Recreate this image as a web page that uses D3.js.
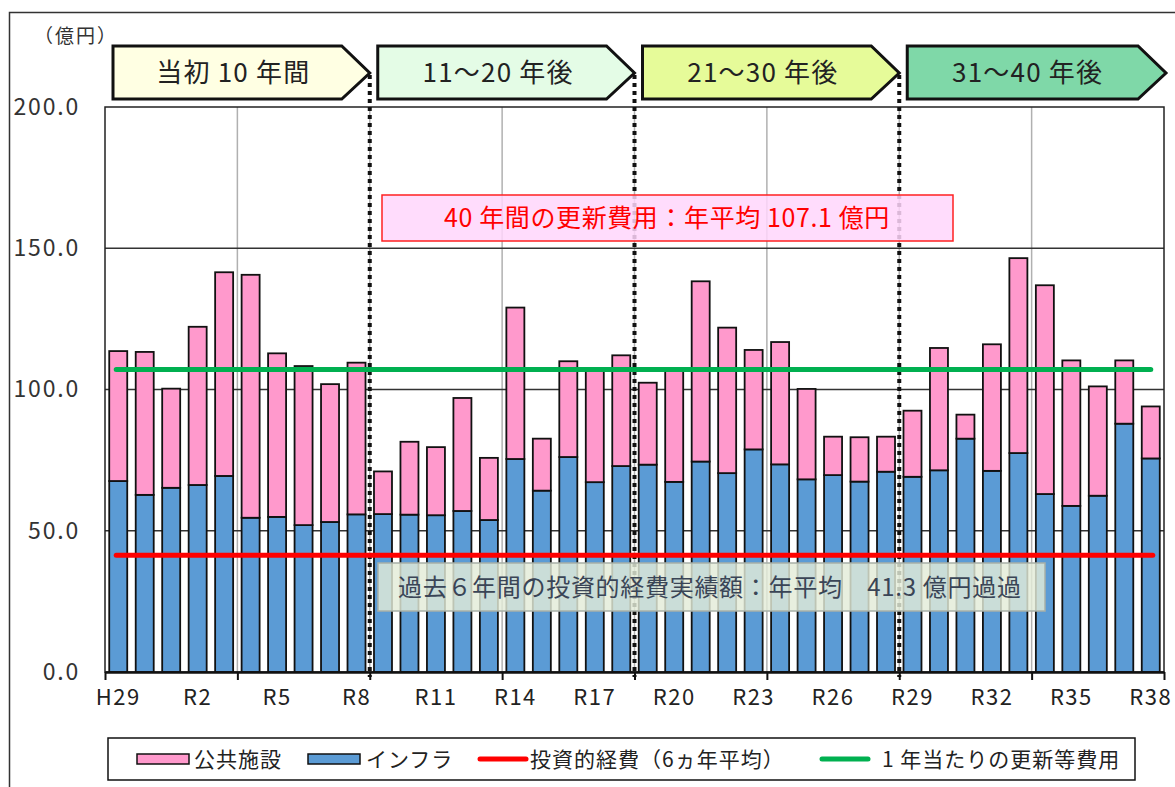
<!DOCTYPE html>
<html>
<head>
<meta charset="utf-8">
<script src="https://cdn.jsdelivr.net/npm/d3@7"></script>
<style>
  body { margin: 0; background: #fff; }
  svg text { font-family: "Noto Sans CJK JP", "Noto Sans", sans-serif; }
</style>
</head>
<body>
<div id="chart"></div>
<script>
// 年度
var years = ["H29", "H30"];
for (var n = 1; n <= 38; n++) years.push("R" + n);

// インフラ（億円）
var infra = [67.6, 62.7, 65.2, 66.2, 69.4, 54.6, 54.9, 52.0, 53.1, 55.8,
             55.9, 55.7, 55.5, 57.0, 53.8, 75.4, 64.2, 76.1, 67.2, 72.9,
             73.4, 67.3, 74.5, 70.4, 78.8, 73.5, 68.2, 69.7, 67.4, 70.9,
             69.1, 71.4, 82.6, 71.2, 77.5, 63.0, 58.8, 62.4, 87.9, 75.6];
// 公共施設（億円）
var publicFac = [46.0, 50.6, 35.1, 56.0, 72.1, 86.0, 57.9, 56.3, 48.8, 53.7,
                 15.1, 25.8, 24.1, 40.0, 22.0, 53.6, 18.4, 33.9, 39.4, 39.2,
                 29.0, 39.5, 63.8, 51.5, 35.2, 43.3, 32.0, 13.6, 15.7, 12.4,
                 23.4, 43.3, 8.5, 44.8, 69.0, 73.9, 51.5, 38.7, 22.4, 18.4];

var renewAvg = 107.1;   // 1年当たりの更新等費用
var investAvg = 41.3;   // 投資的経費（6ヵ年平均）

var yTicks = [0, 50, 100, 150, 200];
var xLabelYears = ["H29", "R2", "R5", "R8", "R11", "R14", "R17", "R20", "R23", "R26", "R29", "R32", "R35", "R38"];
var periods = ["当初 10 年間", "11～20 年後", "21～30 年後", "31～40 年後"];
var periodColors = ["#FFFFE3", "#E4FCE6", "#E6FB99", "#7FD8A8"];
var legendItems = ["公共施設", "インフラ", "投資的経費（6ヵ年平均）", "1 年当たりの更新等費用"];

function drawChart() {
  var W = 1175, H = 787;
  var pLeft = 105, pRight = 1164, pTop = 107, pBottom = 672;

  var svg = d3.select("#chart").append("svg").attr("width", W).attr("height", H);

  // outer frame
  svg.append("path").attr("d", "M9.5," + H + " V12.5 H" + W)
    .attr("fill", "none").attr("stroke", "#333").attr("stroke-width", 1.5);

  var x = d3.scaleBand().domain(years).range([pLeft, pRight]).paddingInner(0.32).paddingOuter(0.16);
  var xi = d3.scaleLinear().domain([0, years.length]).range([pLeft, pRight]);
  var y = d3.scaleLinear().domain([0, 200]).range([pBottom, pTop]);

  // vertical gray grid every 5 years
  svg.append("g").selectAll("line").data(d3.range(5, 40, 5)).enter().append("line")
    .attr("x1", function(d){ return xi(d); }).attr("x2", function(d){ return xi(d); })
    .attr("y1", pTop).attr("y2", pBottom)
    .attr("stroke", "#b0b0b0").attr("stroke-width", 1.5);

  // horizontal grid
  svg.append("g").selectAll("line").data([50, 100, 150]).enter().append("line")
    .attr("x1", pLeft).attr("x2", pRight)
    .attr("y1", function(d){ return y(d); }).attr("y2", function(d){ return y(d); })
    .attr("stroke", "#333").attr("stroke-width", 1.5);

  // plot frame
  svg.append("rect").attr("x", pLeft).attr("y", pTop).attr("width", pRight - pLeft).attr("height", pBottom - pTop)
    .attr("fill", "none").attr("stroke", "#222").attr("stroke-width", 1.5);

  // bars
  var bars = svg.append("g");
  bars.selectAll(".infra").data(years).enter().append("rect").attr("class", "infra")
    .attr("x", function(d){ return x(d); }).attr("width", x.bandwidth())
    .attr("y", function(d, i){ return y(infra[i]); })
    .attr("height", function(d, i){ return y(0) - y(infra[i]); })
    .attr("fill", "#5B9BD5").attr("stroke", "#111").attr("stroke-width", 1.8);
  bars.selectAll(".pub").data(years).enter().append("rect").attr("class", "pub")
    .attr("x", function(d){ return x(d); }).attr("width", x.bandwidth())
    .attr("y", function(d, i){ return y(infra[i] + publicFac[i]); })
    .attr("height", function(d, i){ return y(infra[i]) - y(infra[i] + publicFac[i]); })
    .attr("fill", "#FF99CC").attr("stroke", "#111").attr("stroke-width", 1.8);

  // x axis
  svg.append("g").attr("transform", "translate(0," + pBottom + ")")
    .call(d3.axisBottom(xi).tickValues(d3.range(0, 41, 5)).tickFormat("").tickSize(8).tickSizeOuter(0))
    .call(function(g){
      g.select(".domain").attr("stroke", "#111").attr("stroke-width", 2.5);
      g.selectAll(".tick line").attr("stroke", "#111").attr("stroke-width", 2);
    });
  svg.append("g").selectAll("text").data(xLabelYears).enter().append("text")
    .attr("x", function(d){ return x(d) + x.bandwidth() / 2; }).attr("y", 705)
    .attr("text-anchor", "middle").attr("font-size", 22).attr("letter-spacing", 1.5)
    .attr("fill", "#222").text(function(d){ return d; });

  // y axis labels
  svg.append("g").attr("transform", "translate(" + pLeft + ",0)")
    .call(d3.axisLeft(y).tickValues(yTicks).tickFormat(d3.format(".1f")).tickSize(0).tickPadding(25))
    .call(function(g){
      g.select(".domain").remove();
      g.selectAll("text").attr("font-size", 23).attr("fill", "#333").attr("letter-spacing", 1.8)
        .style("font-family", "'Noto Sans CJK JP', sans-serif");
    });
  svg.append("text").attr("x", 34).attr("y", 43).attr("font-size", 19).attr("letter-spacing", 2)
    .attr("fill", "#333").text("（億円）");

  // period headers
  var hdr = svg.append("g").selectAll("g").data(periods).enter().append("g");
  hdr.append("path")
    .attr("d", function(d, i){
      var l = xi(i * 10) + 8, t = xi((i + 1) * 10) + (i == 3 ? 2 : 0);
      return "M" + l + ",46 H" + (t - 28) + " L" + t + ",73 L" + (t - 28) + ",99 H" + l + " Z";
    })
    .attr("fill", function(d, i){ return periodColors[i]; })
    .attr("stroke", "#111").attr("stroke-width", 3).attr("stroke-linejoin", "miter");
  hdr.append("text")
    .attr("x", function(d, i){ return (xi(i * 10) + 8 + xi((i + 1) * 10) - 28) / 2 + 6; })
    .attr("y", 82).attr("text-anchor", "middle").attr("font-size", 26).attr("letter-spacing", 1.2)
    .attr("fill", "#222").text(function(d){ return d; });

  // dotted period separators
  svg.append("g").selectAll("line").data([10, 20, 30]).enter().append("line")
    .attr("x1", function(d){ return xi(d); }).attr("x2", function(d){ return xi(d); })
    .attr("y1", 75).attr("y2", pBottom + 5)
    .attr("stroke", "#111").attr("stroke-width", 4).attr("stroke-dasharray", "4,4");

  // average lines
  svg.append("line").attr("x1", x(years[0]) + x.bandwidth() / 2 - 2).attr("x2", x(years[39]) + x.bandwidth() / 2 + 2)
    .attr("y1", y(investAvg)).attr("y2", y(investAvg))
    .attr("stroke", "#FF0000").attr("stroke-width", 5).attr("stroke-linecap", "round");
  svg.append("line").attr("x1", x(years[0]) + x.bandwidth() / 2 - 2).attr("x2", x(years[39]) + x.bandwidth() / 2)
    .attr("y1", y(renewAvg)).attr("y2", y(renewAvg))
    .attr("stroke", "#00B050").attr("stroke-width", 5).attr("stroke-linecap", "round");

  // annotation boxes
  svg.append("rect").attr("x", 382).attr("y", 195).attr("width", 571).attr("height", 46)
    .attr("fill", "#FFD6FB").attr("fill-opacity", 0.85).attr("stroke", "#FF2020").attr("stroke-width", 1.5);
  svg.append("text").attr("x", 667).attr("y", 227).attr("text-anchor", "middle")
    .attr("font-size", 25).attr("fill", "#FF0000").attr("letter-spacing", 0.6)
    .text("40 年間の更新費用：年平均 " + renewAvg + " 億円");

  svg.append("rect").attr("x", 378).attr("y", 563).attr("width", 667).attr("height", 48)
    .attr("fill", "#E3EBD8").attr("fill-opacity", 0.82).attr("stroke", "#A8B0A8").attr("stroke-width", 1.5);
  svg.append("text").attr("x", 398).attr("y", 596)
    .attr("font-size", 24).attr("fill", "#3A4556").attr("letter-spacing", 0.7)
    .text("過去６年間の投資的経費実績額：年平均　" + investAvg + " 億円過過");

  // legend
  var lg = svg.append("g");
  lg.append("rect").attr("x", 108).attr("y", 738).attr("width", 1027).attr("height", 42)
    .attr("fill", "#fff").attr("stroke", "#111").attr("stroke-width", 1.5);
  var lx = [137, 308, 478, 820];
  var ltx = [194, 366, 530, 882];
  lg.selectAll(".sw").data([0, 1]).enter().append("rect")
    .attr("x", function(d){ return lx[d]; }).attr("y", 754).attr("width", 52).attr("height", 10)
    .attr("fill", function(d){ return d == 0 ? "#FF99CC" : "#5B9BD5"; })
    .attr("stroke", "#111").attr("stroke-width", 1.5);
  lg.selectAll(".ln").data([2, 3]).enter().append("line")
    .attr("x1", function(d){ return lx[d] + 2; }).attr("x2", function(d){ return lx[d] + 48; })
    .attr("y1", 759).attr("y2", 759)
    .attr("stroke", function(d){ return d == 2 ? "#FF0000" : "#00B050"; })
    .attr("stroke-width", 5).attr("stroke-linecap", "round");
  lg.selectAll("text").data(legendItems).enter().append("text")
    .attr("x", function(d, i){ return ltx[i]; }).attr("y", 767)
    .attr("font-size", 21).attr("letter-spacing", 1).attr("fill", "#222").text(function(d){ return d; });
}

drawChart();
</script>
</body>
</html>
